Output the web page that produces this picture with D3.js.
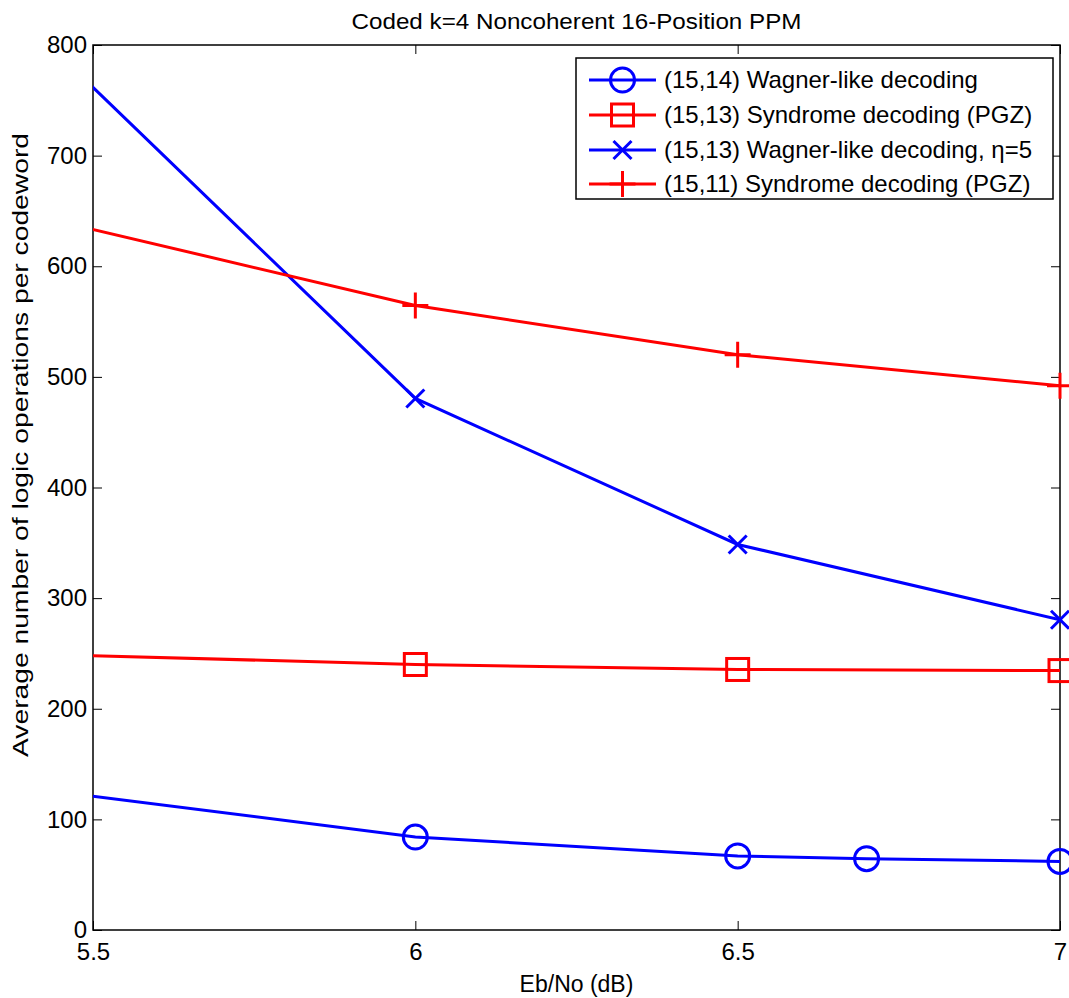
<!DOCTYPE html>
<html>
<head>
<meta charset="utf-8">
<script src="https://cdn.jsdelivr.net/npm/d3@7"></script>
<style>
  body { margin: 0; background: #fff; }
  svg { font-family: "Liberation Sans", Arial, sans-serif; }
</style>
</head>
<body>
<div id="chart"></div>
<script>
// data (first point lies left of the visible axis, as in the original)
const xTicks = [5.5, 6, 6.5, 7];
const yTicks = [0, 100, 200, 300, 400, 500, 600, 700, 800];

const wagner1514X = [5, 6, 6.5, 6.7, 7];
const wagner1514Y = [158, 84, 67, 64.5, 62];

const pgz1513X = [5, 6, 6.5, 7];
const pgz1513Y = [256, 240, 235.5, 234.5];

const wagner1513X = [5, 6, 6.5, 7];
const wagner1513Y = [1043, 480.5, 348.5, 280.5];

const pgz1511X = [5, 6, 6.5, 7];
const pgz1511Y = [702, 564.5, 520, 492];

const seriesNames = [
  "(15,14) Wagner-like decoding",
  "(15,13) Syndrome decoding (PGZ)",
  "(15,13) Wagner-like decoding, \u03b7=5",
  "(15,11) Syndrome decoding (PGZ)"
];

const width = 1069;
const height = 998;
const margin = { left: 93, right: 9, top: 45, bottom: 68 };
const font = "Liberation Sans, Arial, sans-serif";

const series = [
  { name: seriesNames[0], xs: wagner1514X, ys: wagner1514Y, color: "#0000ff", marker: "circle" },
  { name: seriesNames[1], xs: pgz1513X, ys: pgz1513Y, color: "#ff0000", marker: "square" },
  { name: seriesNames[2], xs: wagner1513X, ys: wagner1513Y, color: "#0000ff", marker: "x" },
  { name: seriesNames[3], xs: pgz1511X, ys: pgz1511Y, color: "#ff0000", marker: "plus" }
];

const svg = d3.select("#chart")
  .append("svg")
  .attr("width", width)
  .attr("height", height);

const xScale = d3.scaleLinear()
  .domain([5.5, 7])
  .range([margin.left, width - margin.right]);

const yScale = d3.scaleLinear()
  .domain([0, 800])
  .range([height - margin.bottom, margin.top]);

const x0 = xScale.range()[0], x1 = xScale.range()[1];
const y0 = yScale.range()[0], y1 = yScale.range()[1];

svg.append("defs").append("clipPath")
  .attr("id", "plotClip")
  .append("rect")
  .attr("x", x0).attr("y", y1)
  .attr("width", x1 - x0).attr("height", y0 - y1);

// axes: bottom/left with labels, top/right ticks only, all inward
const tickLen = 9;
svg.append("g")
  .attr("transform", `translate(0,${y0})`)
  .call(d3.axisBottom(xScale).tickValues(xTicks).tickSizeInner(-tickLen).tickSizeOuter(0).tickPadding(13)
    .tickFormat(d3.format("")))
  .call(g => g.selectAll("text").attr("font-size", 24).attr("fill", "#000").attr("font-family", font));

svg.append("g")
  .attr("transform", `translate(0,${y1})`)
  .call(d3.axisTop(xScale).tickValues(xTicks).tickSizeInner(-tickLen).tickSizeOuter(0).tickFormat(""));

svg.append("g")
  .attr("transform", `translate(${x0},0)`)
  .call(d3.axisLeft(yScale).tickValues(yTicks).tickSizeInner(-tickLen).tickSizeOuter(0).tickPadding(6))
  .call(g => g.selectAll("text").attr("font-size", 24).attr("fill", "#000").attr("font-family", font));

svg.append("g")
  .attr("transform", `translate(${x1},0)`)
  .call(d3.axisRight(yScale).tickValues(yTicks).tickSizeInner(-tickLen).tickSizeOuter(0).tickFormat(""));

svg.selectAll(".domain").remove();
svg.selectAll(".tick line").attr("stroke", "#000").attr("stroke-width", 1);

svg.append("rect")
  .attr("x", x0).attr("y", y1)
  .attr("width", x1 - x0).attr("height", y0 - y1)
  .attr("fill", "none")
  .attr("stroke", "#000")
  .attr("stroke-width", 1.5);

// lines
const line = d3.line()
  .x(d => xScale(d[0]))
  .y(d => yScale(d[1]));

const plot = svg.append("g");

series.forEach(s => {
  const pts = s.xs.map((x, i) => [x, s.ys[i]]);
  plot.append("path")
    .datum(pts)
    .attr("clip-path", "url(#plotClip)")
    .attr("fill", "none")
    .attr("stroke", s.color)
    .attr("stroke-width", 3)
    .attr("d", line);
});

function drawMarker(g, type, cx, cy, color) {
  if (type === "circle") {
    g.append("circle").attr("cx", cx).attr("cy", cy).attr("r", 12)
      .attr("fill", "none").attr("stroke", color).attr("stroke-width", 3);
  } else if (type === "square") {
    g.append("rect").attr("x", cx - 11).attr("y", cy - 11).attr("width", 22).attr("height", 22)
      .attr("fill", "none").attr("stroke", color).attr("stroke-width", 3);
  } else if (type === "x") {
    const r = 9;
    g.append("path")
      .attr("d", `M${cx - r},${cy - r}L${cx + r},${cy + r}M${cx - r},${cy + r}L${cx + r},${cy - r}`)
      .attr("stroke", color).attr("stroke-width", 3).attr("fill", "none");
  } else if (type === "plus") {
    const r = 13;
    g.append("path")
      .attr("d", `M${cx - r},${cy}L${cx + r},${cy}M${cx},${cy - r}L${cx},${cy + r}`)
      .attr("stroke", color).attr("stroke-width", 3).attr("fill", "none");
  }
}

// markers only for points inside the x range (like MATLAB)
series.forEach(s => {
  s.xs.forEach((x, i) => {
    if (x < 5.5 || x > 7) return;
    drawMarker(plot, s.marker, xScale(x), yScale(s.ys[i]), s.color);
  });
});

// title and axis labels
svg.append("text")
  .attr("x", (x0 + x1) / 2).attr("y", 29)
  .attr("text-anchor", "middle")
  .attr("font-size", 22)
  .attr("textLength", 450)
  .attr("lengthAdjust", "spacingAndGlyphs")
  .text("Coded k=4 Noncoherent 16-Position PPM");

svg.append("text")
  .attr("x", (x0 + x1) / 2).attr("y", 992)
  .attr("text-anchor", "middle")
  .attr("font-size", 23)
  .text("Eb/No (dB)");

svg.append("text")
  .attr("transform", `translate(28,445) rotate(-90)`)
  .attr("text-anchor", "middle")
  .attr("font-size", 22)
  .attr("textLength", 624)
  .attr("lengthAdjust", "spacingAndGlyphs")
  .text("Average number of logic operations per codeword");

// legend
const legend = svg.append("g");
legend.append("rect")
  .attr("x", 576).attr("y", 58)
  .attr("width", 477).attr("height", 141)
  .attr("fill", "#fff")
  .attr("stroke", "#000")
  .attr("stroke-width", 1.5);

const legendRowY = [80, 115, 150, 184];
series.forEach((s, i) => {
  const cy = legendRowY[i];
  legend.append("line")
    .attr("x1", 589).attr("x2", 656)
    .attr("y1", cy).attr("y2", cy)
    .attr("stroke", s.color).attr("stroke-width", 3);
  drawMarker(legend, s.marker, 622.5, cy, s.color);
  legend.append("text")
    .attr("x", 664).attr("y", cy + 8)
    .attr("font-size", 24)
    .text(s.name);
});
</script>
</body>
</html>
